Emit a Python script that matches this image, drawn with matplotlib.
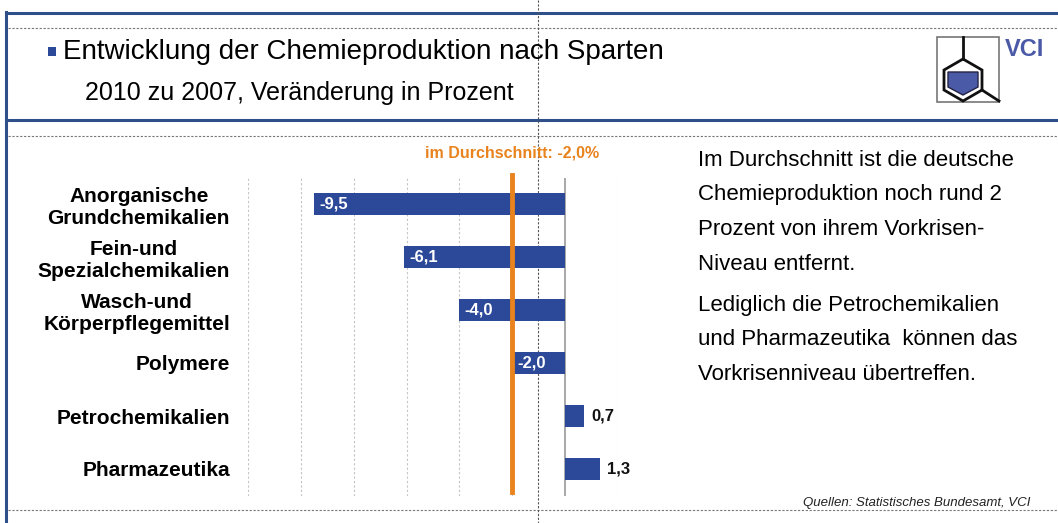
import matplotlib
matplotlib.use("Agg")
import matplotlib.pyplot as plt
from matplotlib.patches import Rectangle, Polygon

# data
categories = ["Anorganische\nGrundchemikalien", "Fein-und\nSpezialchemikalien",
              "Wasch-und\nKörperpflegemittel", "Polymere",
              "Petrochemikalien", "Pharmazeutika"]
values = [-9.5, -6.1, -4.0, -2.0, 0.7, 1.3]
value_labels = ["-9,5", "-6,1", "-4,0", "-2,0", "0,7", "1,3"]
average = -2.0
average_label = "im Durchschnitt: -2,0%"

title = "Entwicklung der Chemieproduktion nach Sparten"
subtitle = "2010 zu 2007, Veränderung in Prozent"
side_text_1 = ["Im Durchschnitt ist die deutsche", "Chemieproduktion noch rund 2",
               "Prozent von ihrem Vorkrisen-", "Niveau entfernt."]
side_text_2 = ["Lediglich die Petrochemikalien", "und Pharmazeutika  können das",
               "Vorkrisenniveau übertreffen."]
source = "Quellen: Statistisches Bundesamt, VCI"

BLUE = "#2c4898"
ORANGE = "#e8831e"
NARROW = ["Liberation Sans Narrow", "Liberation Sans"]
REG = ["Liberation Sans", "DejaVu Sans"]

W, H = 1058, 523
fig = plt.figure(figsize=(W / 100, H / 100), dpi=100)

# background layer in pixel coordinates
bg = fig.add_axes([0, 0, 1, 1])
bg.set_xlim(0, W)
bg.set_ylim(H, 0)
bg.axis("off")

bg.plot([6, W], [13, 13], color="#2f4f8a", lw=2.2)
bg.plot([6, W], [120, 120], color="#2f4f8a", lw=2.2)
bg.plot([6, 6], [12, H], color="#2f4f8a", lw=2.2)
for yy in (28, 136, 510):
    bg.plot([8, W], [yy, yy], color="#777777", lw=0.8, ls=(0, (2, 1.5)))
bg.plot([538, 538], [0, H], color="#555555", lw=0.8, ls=(0, (2, 1.5)))

bg.add_patch(Rectangle((48, 47), 8, 9, color=BLUE, lw=0))
bg.text(63, 52, title, family=NARROW, fontsize=20, va="center", ha="left")
bg.text(85, 93, subtitle, family=NARROW, fontsize=18, va="center", ha="left")

# logo
bg.add_patch(Rectangle((937, 37), 62, 65, fill=False, ec="#777777", lw=1.2))
hexa = [(963, 59), (982, 70), (982, 90), (963, 101), (944, 90), (944, 70)]
bg.add_patch(Polygon(hexa, closed=True, fill=False, ec="#111111", lw=2))
bg.plot([963, 963], [37, 59], color="#111111", lw=2)
bg.plot([982, 999], [90, 101], color="#111111", lw=2)
bg.add_patch(Polygon([(948, 72), (978, 72), (978, 87), (963, 95), (948, 87)],
                     closed=True, fc="#4a5aa6", ec="#222244", lw=1))
bg.text(1005, 49, "VCI", family=NARROW, fontsize=17, fontweight="bold",
        color="#4a5aa6", va="center", ha="left")

# side text
for i, line in enumerate(side_text_1):
    bg.text(698, 160 + i * 34.7, line, family=REG, fontsize=16, va="center", ha="left")
for i, line in enumerate(side_text_2):
    bg.text(698, 305 + i * 34.7, line, family=REG, fontsize=16, va="center", ha="left")
bg.text(1030, 503, source, family=REG, fontsize=9.5, style="italic",
        color="#222222", va="center", ha="right")

# bar chart
x0, x1 = 248, 618
y0, y1 = 177.5, 495.5
ax = fig.add_axes([x0 / W, 1 - y1 / H, (x1 - x0) / W, (y1 - y0) / H])
ax.patch.set_alpha(0)
ypos = list(range(len(categories)))
ax.barh(ypos, values, height=0.43, color=BLUE, zorder=2)
ax.set_xlim(-12, 2)
ax.set_ylim(len(categories) - 0.5, -0.5)
for s in ax.spines.values():
    s.set_visible(False)
for g in range(-12, 3, 2):
    if g == 0:
        ax.axvline(g, color="#999999", lw=1.2, zorder=1)
    else:
        ax.axvline(g, color="#c4c4c4", lw=0.8, ls=(0, (2, 2)), zorder=1)
ax.axvline(average, ymin=0.01, ymax=1.007, color=ORANGE, lw=3.5, zorder=3,
           clip_on=False)
ax.text(average, -0.97, average_label, family=NARROW, fontsize=11.5,
        fontweight="bold", color=ORANGE, ha="center", va="center")

ax.set_xticks([])
ax.set_yticks(ypos)
ax.set_yticklabels(categories, family=NARROW, fontsize=15, fontweight="bold",
                   multialignment="center", linespacing=1.2)
ax.tick_params(axis="y", length=0, pad=13)

for y, v, lab in zip(ypos, values, value_labels):
    if v < 0:
        ax.text(v + 0.2, y, lab, family=NARROW, fontsize=12, fontweight="bold",
                color="white", ha="left", va="center", zorder=4)
    else:
        ax.text(v + 0.3, y, lab, family=NARROW, fontsize=12, fontweight="bold",
                color="#111111", ha="left", va="center", zorder=4)

fig.savefig("out.png", dpi=100)
